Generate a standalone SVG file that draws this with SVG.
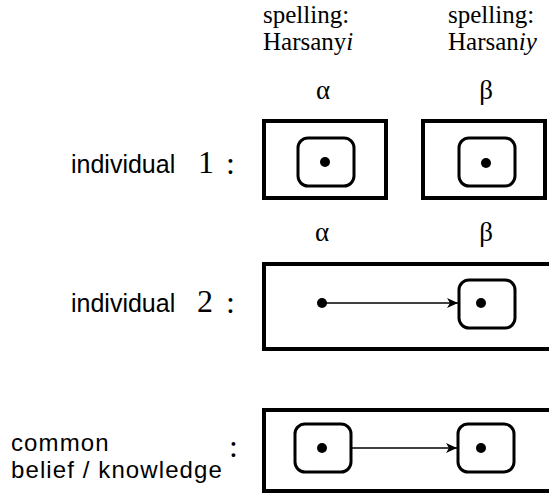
<svg xmlns="http://www.w3.org/2000/svg" width="549" height="495" viewBox="0 0 549 495">
<style>
.frame{fill:none;stroke:#000;stroke-width:4}
.state{fill:#fff;stroke:#000;stroke-width:3}
.dot{fill:#000}
.serif{font-family:"Liberation Serif","Times New Roman",serif;fill:#000}
.sans{font-family:"Liberation Sans",Arial,sans-serif;fill:#000}
.edge{stroke:#000;stroke-width:1.5;fill:none}
</style>
<defs>
<marker id="arr" markerWidth="12" markerHeight="10" refX="11" refY="5" orient="auto" markerUnits="userSpaceOnUse">
<path d="M0,0 L11,5 L0,10 L3,5 Z" fill="#000"/>
</marker>
</defs>
<rect width="549" height="495" fill="#fff"/>
<g id="header">
<text class="serif" x="263" y="23" font-size="25">spelling:</text>
<text class="serif" x="263" y="50" font-size="25">Harsany<tspan font-style="italic">i</tspan></text>
<text class="serif" x="448" y="23" font-size="25">spelling:</text>
<text class="serif" x="448" y="50" font-size="25">Harsan<tspan font-style="italic">iy</tspan></text>
<text class="serif" x="323" y="99" font-size="27" text-anchor="middle">α</text>
<text class="serif" x="486" y="99" font-size="27" text-anchor="middle">β</text>
<text class="serif" x="322" y="241" font-size="27" text-anchor="middle">α</text>
<text class="serif" x="486" y="241" font-size="27" text-anchor="middle">β</text>
</g>
<g id="row1-label">
<text class="sans" x="71" y="173" font-size="25">individual</text>
<text class="serif" x="198" y="173" font-size="32">1</text>
<text class="serif" x="226" y="174" font-size="32">:</text>
</g>
<g id="row2-label">
<text class="sans" x="71" y="312" font-size="25">individual</text>
<text class="serif" x="197" y="312" font-size="32">2</text>
<text class="serif" x="226" y="313" font-size="32">:</text>
</g>
<g id="row3-label">
<text class="sans" x="11" y="451" font-size="24" letter-spacing="1.1">common</text>
<text class="sans" x="11" y="478" font-size="24" letter-spacing="1.1">belief / knowledge</text>
<text class="serif" x="229" y="457" font-size="32">:</text>
</g>
<g id="frame-1a">
<rect class="frame" x="264" y="121" width="122" height="77"/>
<rect class="state" x="298" y="138" width="56" height="48" rx="10"/>
<circle class="dot" cx="325" cy="162" r="5"/>
</g>
<g id="frame-1b">
<rect class="frame" x="423" y="121" width="122" height="77"/>
<rect class="state" x="459" y="138" width="56" height="48" rx="10"/>
<circle class="dot" cx="486" cy="163" r="5"/>
</g>
<g id="frame-2">
<rect class="frame" x="264" y="264" width="300" height="85"/>
<rect class="state" x="459" y="280" width="56" height="48" rx="10"/>
<circle class="dot" cx="322" cy="303" r="5"/>
<circle class="dot" cx="481" cy="303" r="5"/>
</g>
<g id="frame-3">
<rect class="frame" x="264" y="410" width="300" height="81"/>
<rect class="state" x="295" y="424" width="56" height="48" rx="10"/>
<rect class="state" x="458" y="424" width="56" height="48" rx="10"/>
<circle class="dot" cx="322" cy="448" r="5"/>
<circle class="dot" cx="481" cy="448" r="5"/>
</g>
<g id="connectors">
<line class="edge" x1="322" y1="303" x2="458" y2="303" marker-end="url(#arr)"/>
<line class="edge" x1="352" y1="448" x2="457" y2="448" marker-end="url(#arr)"/>
</g>
</svg>
